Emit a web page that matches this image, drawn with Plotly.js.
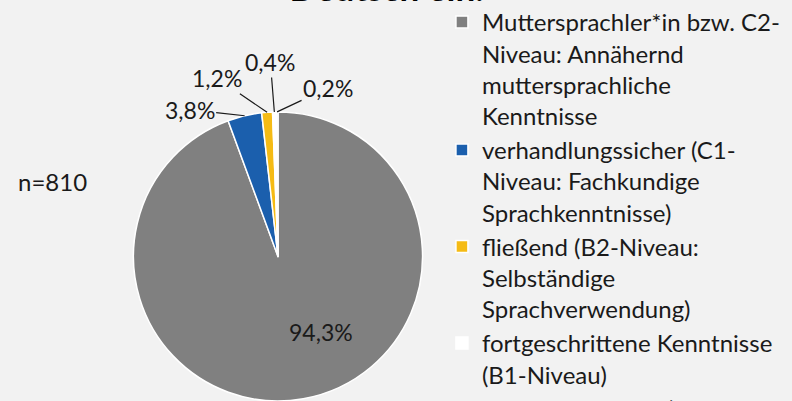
<!DOCTYPE html>
<html>
<head>
<meta charset="utf-8">
<script src="https://cdn.plot.ly/plotly-3.0.1.min.js"></script>
<style>html,body{margin:0;padding:0;background:#f2f2f2;}#chart{width:792px;height:401px;}</style>
</head>
<body>
<div id="chart"></div>
<script>
const categories = [
  "Muttersprachler*in bzw. C2-<br>Niveau: Annähernd<br>muttersprachliche<br>Kenntnisse",
  "verhandlungssicher (C1-<br>Niveau: Fachkundige<br>Sprachkenntnisse)",
  "fließend (B2-Niveau:<br>Selbständige<br>Sprachverwendung)",
  "fortgeschrittene Kenntnisse<br>(B1-Niveau)",
  "Grundkenntnisse (A1/A2-<br>Niveau)"
];
const shares = [94.3, 3.8, 1.2, 0.4, 0.2];
const sliceColors = ["#808080", "#1b5fad", "#f5bb15", "#ffffff", "#eef1f7"];
const titleText = "Deutsch ein.";
const sampleNote = "n=810";

// value-label placement (style only)
// slice 0: label inside; slices 1..4: label outside with leader line
const labelPlacement = [
  {inside: true, rf: 0.6, dx: 28, dy: 10},
  {dx: -55, dy: -6},
  {dx: -50, dy: -34},
  {dx: -4, dy: -50},
  {dx: 51, dy: -24}
];

const W = 792, H = 401;
const dom = {x: [0.168, 0.534], y: [0, 0.721]};
const FONT = "Lato, 'Noto Sans', sans-serif";

const trace = {
  type: "pie",
  labels: categories,
  values: shares,
  sort: false,
  direction: "clockwise",
  rotation: 0,
  marker: {colors: sliceColors, line: {color: "#ffffff", width: 1.5}},
  textinfo: "none",
  hoverinfo: "none",
  domain: dom
};

// geometry of the pie as Plotly lays it out (margins are zero)
const pw = (dom.x[1] - dom.x[0]) * W, ph = (dom.y[1] - dom.y[0]) * H;
const r = Math.min(pw, ph) / 2;
const cx = (dom.x[0] + dom.x[1]) / 2 * W;
const cy = H - (dom.y[0] + dom.y[1]) / 2 * H;
const total = shares.reduce((a, b) => a + b, 0);
const fmt = v => v.toFixed(1).replace(".", ",") + "%";

const annotations = [{
  text: sampleNote, xref: "paper", yref: "paper", x: 0.066, y: 0.548,
  xanchor: "center", yanchor: "middle", showarrow: false,
  font: {family: FONT, size: 24, color: "#1a1a1a"}
}];

let cum = 0;
shares.forEach((v, i) => {
  const mid = (cum + v / 2) / total;
  cum += v;
  const p = labelPlacement[i];
  const th = 2 * Math.PI * mid;
  const rr = p.inside ? r * p.rf : r;
  const px = cx + rr * Math.sin(th), py = cy - rr * Math.cos(th);
  if (p.inside) {
    annotations.push({
      text: fmt(v), xref: "paper", yref: "paper",
      x: px / W, y: 1 - py / H, xshift: p.dx, yshift: p.dy,
      showarrow: false, xanchor: "center", yanchor: "middle",
      font: {family: FONT, size: 23, color: "#1a1a1a"}
    });
  } else {
    annotations.push({
      text: fmt(v), xref: "paper", yref: "paper",
      x: px / W, y: 1 - py / H, ax: p.dx, ay: p.dy,
      showarrow: true, arrowhead: 0, arrowwidth: 1.2, arrowcolor: "#1a1a1a",
      standoff: 0, startstandoff: 0,
      font: {family: FONT, size: 23, color: "#1a1a1a"}
    });
  }
});

const layout = {
  width: W, height: H,
  paper_bgcolor: "#f2f2f2", plot_bgcolor: "#f2f2f2",
  margin: {l: 0, r: 0, t: 0, b: 0},
  separators: ",.",
  font: {family: FONT, color: "#1a1a1a"},
  title: {
    text: "<b>" + titleText + "</b>",
    font: {family: FONT, size: 35, color: "#000000"},
    x: 0.488, xanchor: "center", y: 0.995, yanchor: "bottom", yref: "container",
    pad: {b: 1}
  },
  showlegend: true,
  legend: {
    x: 0.558, xanchor: "left", y: 0.983, yanchor: "top", valign: "top",
    font: {family: FONT, size: 24, color: "#1a1a1a"},
    bgcolor: "rgba(0,0,0,0)", itemwidth: 30, traceorder: "normal"
  },
  annotations: annotations
};

Plotly.newPlot("chart", [trace], layout, {staticPlot: true, displayModeBar: false});
</script>
</body>
</html>
